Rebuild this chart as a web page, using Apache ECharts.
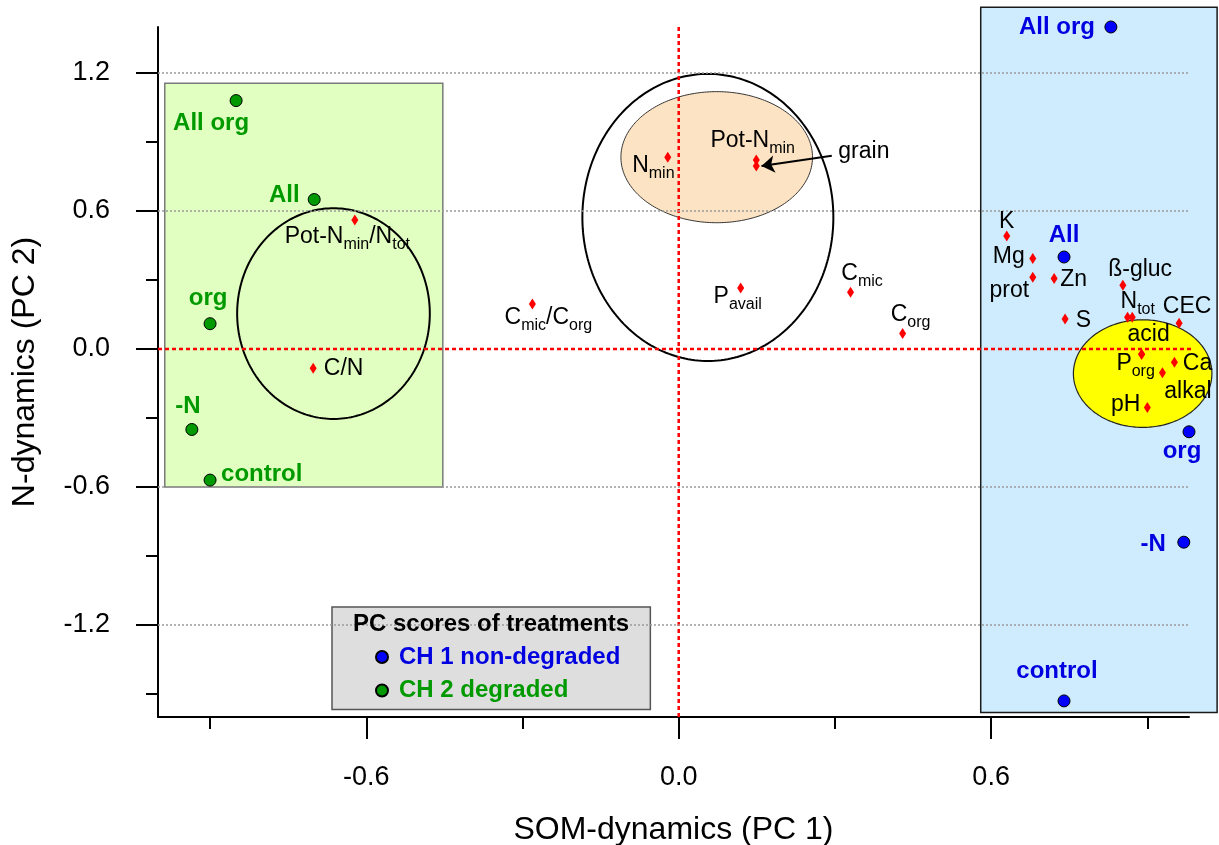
<!DOCTYPE html>
<html>
<head>
<meta charset="utf-8">
<script src="https://cdn.jsdelivr.net/npm/echarts@6/dist/echarts.min.js"></script>
<style>
html,body{margin:0;padding:0;background:#fff;}
#c{width:1219px;height:845px;}
</style>
</head>
<body>
<div id="c"></div>
<script>
// ================= DATA =================
const xTickValues = [-0.6, 0.0, 0.6];
const xMinorTickValues = [-0.9, -0.3, 0.3, 0.9];
const yTickValues = [-1.2, -0.6, 0.0, 0.6, 1.2];
const yMinorTickValues = [-1.5, -0.9, -0.3, 0.3, 0.9];
const gridLineValues = [-1.2, -0.6, 0.6, 1.2];

// PC scores of treatments
const treatmentNames = ['All org', 'All', 'org', '-N', 'control'];
const ch1X = [0.83, 0.74, 0.98, 0.97, 0.74];      // CH 1 non-degraded
const ch1Y = [1.40, 0.40, -0.36, -0.84, -1.53];
const ch2X = [-0.85, -0.70, -0.90, -0.935, -0.90]; // CH 2 degraded
const ch2Y = [1.08, 0.65, 0.11, -0.35, -0.57];

// PC loadings of soil / plant variables (underscore = subscript)
const variableNames = ['Pot-N_min/N_tot', 'C/N', 'C_mic/C_org', 'N_min', 'Pot-N_min', 'grain',
  'P_avail', 'C_mic', 'C_org', 'K', 'Mg', 'prot', 'Zn', 'S', 'ß-gluc', 'N_tot', 'N_tot',
  'CEC', 'acid', 'P_org', 'Ca', 'alkal', 'pH'];
const variableX = [-0.622, -0.702, -0.281, -0.021, 0.149, 0.149,
  0.119, 0.330, 0.430, 0.630, 0.680, 0.680, 0.721, 0.742, 0.853, 0.862, 0.871,
  0.961, 0.889, 0.889, 0.952, 0.929, 0.900];
const variableY = [0.561, -0.084, 0.196, 0.834, 0.822, 0.796,
  0.265, 0.247, 0.067, 0.491, 0.394, 0.312, 0.306, 0.130, 0.277, 0.138, 0.138,
  0.112, -0.023, -0.023, -0.058, -0.103, -0.254];

// shaded treatment regions (data units)
const boxNames = ['CH 2 region', 'CH 1 region'];
const boxX0 = [-0.987, 0.580];
const boxX1 = [-0.453, 1.034];
const boxY0 = [-0.600, -1.580];
const boxY1 = [1.155, 1.486];

// variable groupings (ellipses, data units)
const ellipseNames = ['N availability', 'cation group', 'N ratio group', 'central group'];
const ellipseCX = [0.073, 0.891, -0.663, 0.056];
const ellipseCY = [0.834, -0.107, 0.154, 0.572];
const ellipseRX = [0.184, 0.133, 0.185, 0.241];
const ellipseRY = [0.285, 0.234, 0.458, 0.624];

// zero reference lines
const zeroVX = [0, 0], zeroVY = [-1.6, 1.4];
const zeroHX = [-1.0, 1.02], zeroHY = [0, 0];

// "grain" arrow
const arrowFrom = [0.294, 0.840];
const arrowTo = [0.159, 0.796];

// ================= STYLE / LAYOUT =================
const FONT = "'Liberation Sans', Arial, Helvetica, sans-serif";
const BLUE_TXT = '#0000e0', BLUE_PT = '#0000ff';
const GREEN_TXT = '#009a00', GREEN_PT = '#009900';

const ch1LabelPlace = [['right', -16, 0], ['center', 0, -22], ['center', -7, 20], ['right', -18, 2], ['center', -7, -30]];
const ch2LabelPlace = [['center', -25, 23], ['center', -30, -4], ['center', -2, -25], ['center', -4, -23], ['left', 11, -6]];
const variableLabelPlace = [
  ['center', -7.5, 17], ['left', 10.7, 0.7], ['center', 16, 14], ['center', -14.4, 8], ['center', -3.6, -19],
  ['left', 82, -14.3], ['center', -3, 9], ['center', 11.5, -19], ['center', 8, -18.7], ['center', 0, -14.3],
  ['right', -8, -1.6], ['center', -23.5, 13.4], ['left', 6, 1.3], ['left', 10.7, 1.7], ['center', 17.3, -15.3],
  ['center', 10.2, -15.6], null, ['center', 8, -16.6], ['center', 7, -19.3], ['center', -6, 9],
  ['left', 8.4, 1], ['center', 25.5, 19], ['right', -7, -2.3]
];
const boxStyles = [
  {fill: '#e0ffc0', stroke: '#7a7a7a', lineWidth: 1.5},
  {fill: '#ceecfd', stroke: '#1a1a1a', lineWidth: 1.5}
];
const ellipseStyles = [
  {fill: '#fce3c3', stroke: '#333', lineWidth: 1},
  {fill: '#ffff00', stroke: '#222', lineWidth: 1.2},
  {fill: 'none', stroke: '#000', lineWidth: 2},
  {fill: 'none', stroke: '#000', lineWidth: 2}
];

function richName(s) {
  return s.split(/_([a-z]+)/).map((part, i) =>
    i % 2 ? '{s|' + part + '}' : (part ? '{m|' + part + '}' : '')).join('');
}

function treatmentData(xs, ys, place) {
  return treatmentNames.map((n, i) => ({
    name: n, value: [xs[i], ys[i]],
    label: {align: place[i][0], offset: [place[i][1], place[i][2]]}
  }));
}

const variableData = variableNames.map((n, i) => {
  const p = variableLabelPlace[i];
  return {
    name: n, value: [variableX[i], variableY[i]],
    label: p ? {show: true, align: p[0], offset: [p[1], p[2]]} : {show: false}
  };
});

const chart = echarts.init(document.getElementById('c'));

const axisCommon = {
  axisLine: {show: true, onZero: false, lineStyle: {color: '#000', width: 2}},
  splitLine: {show: false},
  nameTextStyle: {fontFamily: FONT, fontSize: 32, color: '#000'}
};

chart.setOption({
  animation: false,
  textStyle: {fontFamily: FONT},
  grid: {left: 158, right: 30, top: 27, bottom: 128, containLabel: false, outerBoundsMode: 'none'},
  xAxis: [
    Object.assign({}, axisCommon, {
      type: 'value', min: -1.0, max: 0.98, position: 'bottom',
      name: 'SOM-dynamics (PC 1)', nameLocation: 'middle', nameGap: 97,
      axisTick: {show: true, customValues: xTickValues, length: 22, lineStyle: {color: '#000', width: 2}},
      axisLabel: {customValues: xTickValues, formatter: v => v.toFixed(1), fontSize: 27, color: '#000', margin: 47, fontFamily: FONT}
    }),
    {
      type: 'value', min: -1.0, max: 0.98, position: 'bottom',
      axisLine: {show: false, onZero: false}, splitLine: {show: false}, axisLabel: {show: false},
      axisTick: {show: true, customValues: xMinorTickValues, length: 12, lineStyle: {color: '#000', width: 2}}
    }
  ],
  yAxis: [
    Object.assign({}, axisCommon, {
      type: 'value', min: -1.6, max: 1.4, position: 'left',
      name: 'N-dynamics (PC 2)', nameLocation: 'middle', nameGap: 117,
      axisTick: {show: true, customValues: yTickValues, length: 22, lineStyle: {color: '#000', width: 2}},
      axisLabel: {customValues: yTickValues, formatter: v => v.toFixed(1), fontSize: 27, color: '#000', margin: 48, fontFamily: FONT}
    }),
    {
      type: 'value', min: -1.6, max: 1.4, position: 'left',
      axisLine: {show: false, onZero: false}, splitLine: {show: false}, axisLabel: {show: false},
      axisTick: {show: true, customValues: yMinorTickValues, length: 12, lineStyle: {color: '#000', width: 2}}
    }
  ],
  legend: {
    data: [
      {name: 'CH 1 non-degraded', textStyle: {color: BLUE_TXT}},
      {name: 'CH 2 degraded', textStyle: {color: GREEN_TXT}}
    ],
    orient: 'vertical', left: 332, top: 607,
    padding: [38, 30, 7, 43],
    itemWidth: 12, itemHeight: 12, itemGap: 9.5,
    icon: 'circle', selectedMode: false,
    backgroundColor: '#dedede', borderColor: '#555', borderWidth: 1.5,
    textStyle: {fontSize: 24, fontWeight: 'bold', fontFamily: FONT, padding: [0, 0, 0, 6]}
  },
  graphic: [{
    type: 'text', x: 491, y: 624, z: 100,
    style: {text: 'PC scores of treatments', fill: '#000', font: 'bold 24px ' + FONT, align: 'center', verticalAlign: 'middle'}
  }],
  series: [
    { // dotted gridlines
      type: 'scatter', name: 'grid', data: [], z: 1, silent: true,
      markLine: {
        silent: true, symbol: ['none', 'none'], label: {show: false},
        lineStyle: {color: '#9a9a9a', type: [2, 2], width: 1.5},
        data: gridLineValues.map(v => ({yAxis: v}))
      }
    },
    { // treatment regions
      type: 'custom', name: 'regions', z: 2, silent: true, clip: false,
      data: boxNames.map((n, i) => ({name: n, value: [boxX0[i], boxX1[i], boxY0[i], boxY1[i]]})),
      encode: {x: [0, 1], y: [2, 3]},
      renderItem: (params, api) => {
        const tl = api.coord([api.value(0), api.value(3)]);
        const br = api.coord([api.value(1), api.value(2)]);
        const st = boxStyles[params.dataIndex];
        return {type: 'rect', shape: {x: tl[0], y: tl[1], width: br[0] - tl[0], height: br[1] - tl[1]},
          style: {fill: st.fill, stroke: st.stroke, lineWidth: st.lineWidth}};
      }
    },
    { // variable group ellipses
      type: 'custom', name: 'groups', z: 3, silent: true, clip: false,
      data: ellipseNames.map((n, i) => ({name: n, value: [ellipseCX[i], ellipseCY[i], ellipseRX[i], ellipseRY[i]]})),
      encode: {x: 0, y: 1},
      renderItem: (params, api) => {
        const c = api.coord([api.value(0), api.value(1)]);
        const e = api.coord([api.value(0) + api.value(2), api.value(1) + api.value(3)]);
        const rx = e[0] - c[0], ry = c[1] - e[1];
        const pts = [];
        for (let k = 0; k < 240; k++) {
          const t = k / 240 * Math.PI * 2;
          pts.push([c[0] + rx * Math.cos(t), c[1] + ry * Math.sin(t)]);
        }
        const st = ellipseStyles[params.dataIndex];
        return {type: 'polygon', shape: {points: pts}, style: {fill: st.fill, stroke: st.stroke, lineWidth: st.lineWidth}};
      }
    },
    { // PC1 = 0
      type: 'line', name: 'PC1 = 0', z: 4, silent: true, clip: false, symbol: 'none',
      data: zeroVX.map((x, i) => [x, zeroVY[i]]),
      lineStyle: {color: '#ff0000', width: 2.5, type: [4, 3]}
    },
    { // PC2 = 0
      type: 'line', name: 'PC2 = 0', z: 4, silent: true, clip: false, symbol: 'none',
      data: zeroHX.map((x, i) => [x, zeroHY[i]]),
      lineStyle: {color: '#ff0000', width: 2.5, type: [4, 3]}
    },
    { // arrow to grain
      type: 'lines', coordinateSystem: 'cartesian2d', z: 5, silent: true,
      symbol: ['none', 'arrow'], symbolSize: 13,
      lineStyle: {color: '#000', width: 2, opacity: 1},
      data: [{coords: [arrowFrom, arrowTo]}]
    },
    { // variables
      type: 'scatter', name: 'variables', z: 6, silent: true,
      symbol: 'diamond', symbolSize: [7, 11],
      itemStyle: {color: '#ff0000', opacity: 1},
      label: {
        show: true, position: 'inside', color: '#000',
        formatter: p => richName(p.name),
        rich: {
          m: {fontSize: 23, lineHeight: 32, verticalAlign: 'middle', color: '#000', fontFamily: FONT},
          s: {fontSize: 16, lineHeight: 16, verticalAlign: 'bottom', color: '#000', fontFamily: FONT}
        }
      },
      data: variableData
    },
    {
      type: 'scatter', name: 'CH 1 non-degraded', z: 7, silent: true,
      symbol: 'circle', symbolSize: 12,
      itemStyle: {color: BLUE_PT, borderColor: '#000', borderWidth: 1, opacity: 1},
      label: {show: true, position: 'inside', formatter: '{b}', color: BLUE_TXT, fontSize: 24, fontWeight: 'bold', fontFamily: FONT},
      data: treatmentData(ch1X, ch1Y, ch1LabelPlace)
    },
    {
      type: 'scatter', name: 'CH 2 degraded', z: 7, silent: true,
      symbol: 'circle', symbolSize: 12,
      itemStyle: {color: GREEN_PT, borderColor: '#000', borderWidth: 1, opacity: 1},
      label: {show: true, position: 'inside', formatter: '{b}', color: GREEN_TXT, fontSize: 24, fontWeight: 'bold', fontFamily: FONT},
      data: treatmentData(ch2X, ch2Y, ch2LabelPlace)
    }
  ]
});
</script>
</body>
</html>
